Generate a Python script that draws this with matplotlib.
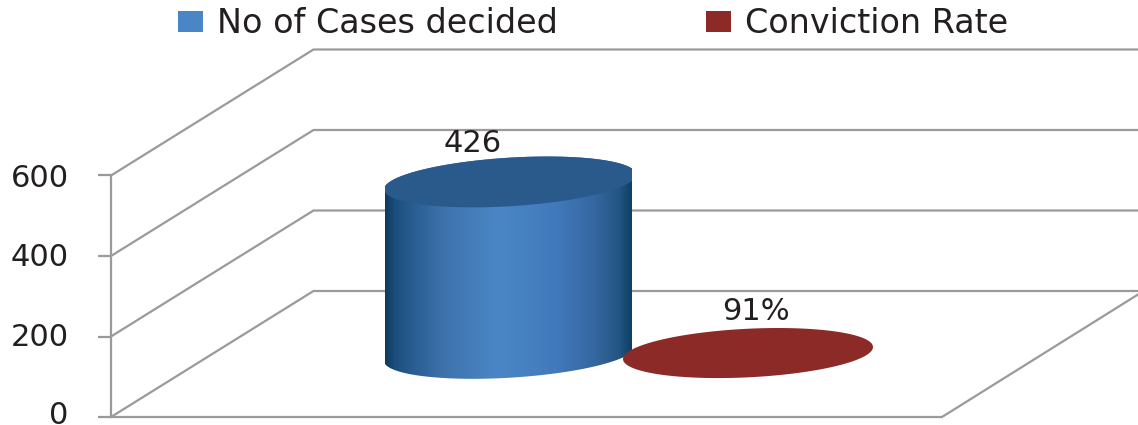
import numpy as np
import matplotlib
matplotlib.use("Agg")
import matplotlib.pyplot as plt
from matplotlib.colors import LinearSegmentedColormap
from matplotlib.patches import Patch, Polygon, Rectangle
from matplotlib.transforms import ScaledTranslation

# data
categories = ["No of Cases decided", "Conviction Rate"]
values = [426, 0.91]
value_labels = ["426", "91%"]
y_ticks = [0, 200, 400, 600]

# layout (pixels)
W, H = 1138, 425
PX_CAT = 239.5   # pixels per category step
PX_VAL = 0.4025  # pixels per value unit
LEFT, FLOOR = 111, 417
CAT0 = 508.5
DEPTH_X, DEPTH_Y = 202.5, 126
GRID = "#9a9a9a"
TEXT = "#231f20"
LW = 1.6

fig = plt.figure(figsize=(W / 100, H / 100), dpi=100)
ax = fig.add_axes([LEFT / W, (H - FLOOR) / H, (W - LEFT) / W, FLOOR / H])
ax.set_xlim((LEFT - CAT0) / PX_CAT, (W - CAT0) / PX_CAT)
ax.set_ylim(0, FLOOR / PX_VAL)
ax.patch.set_visible(False)

x_left = ax.get_xlim()[0]
x_right = ax.get_xlim()[1]
dx = DEPTH_X / PX_CAT
dy = DEPTH_Y / PX_VAL

# back wall + side wall gridlines
for v in y_ticks:
    ax.plot([x_left, x_left + dx, x_right], [v, v + dy, v + dy], color=GRID, lw=LW, zorder=1)
# floor right edge
x_floor = (942 - CAT0) / PX_CAT
ax.plot([x_floor, x_right], [0, (W - 942) * 0.625 / PX_VAL], color=GRID, lw=LW, zorder=1)

for s in ["top", "right"]:
    ax.spines[s].set_visible(False)
for s in ["left", "bottom"]:
    ax.spines[s].set_color(GRID)
    ax.spines[s].set_linewidth(LW)
ax.spines["left"].set_bounds(0, 600)
ax.spines["bottom"].set_bounds(x_left, x_floor)
ax.set_xticks([])
ax.set_yticks(y_ticks)
ax.tick_params(axis="y", length=9.5, width=LW, color=GRID, pad=21, labelsize=22, labelcolor=TEXT)
# the low labels sit a bit above their ticks
for lab, up_px in zip(ax.get_yticklabels(), [5, 2, 1, 0]):
    lab.set_transform(lab.get_transform() + ScaledTranslation(0, up_px / 100, fig.dpi_scale_trans))


def disc(c, v, half_w=125, half_h=24.3, shear=6):
    t = np.linspace(0, 2 * np.pi, 241)
    x = c + half_w / PX_CAT * np.cos(t)
    y = v + (half_h * np.sin(t) + shear * np.cos(t)) / PX_VAL
    return x, y


BASE = 158  # cylinder base sits this far up the floor
x0 = 1.5 / PX_CAT

# cylinder body with horizontal gradient
cmap = LinearSegmentedColormap.from_list("cyl", [
    (0.0, "#0f3a60"), (0.04, "#1c4f7c"), (0.12, "#2a5f94"), (0.25, "#3f74ae"),
    (0.45, "#4a86c5"), (0.68, "#427bbd"), (0.85, "#3567a0"), (0.95, "#235582"),
    (1.0, "#0f3f66"),
])
bx, by = disc(x0, BASE, half_w=126, shear=7.5)
tx, ty = disc(x0, BASE + values[0], half_w=126, shear=7.5)
low = (np.arange(len(bx)) >= 120)
up = (np.arange(len(tx)) <= 120)
outline = np.vstack([
    np.column_stack([bx[low], by[low]]),
    np.column_stack([tx[up], ty[up]]),
])
body = Polygon(outline, closed=True, transform=ax.transData, fc="none", ec="none")
ax.add_patch(body)
x_a, x_b = (385 - CAT0) / PX_CAT, (632 - CAT0) / PX_CAT
grad = np.linspace(0, 1, 256).reshape(1, -1)
im = ax.imshow(grad, cmap=cmap, extent=[x_a, x_b, BASE - 80, BASE + values[0] + 80],
               aspect="auto", zorder=3)
im.set_clip_path(body)
ax.set_xlim((LEFT - CAT0) / PX_CAT, (W - CAT0) / PX_CAT)
ax.set_ylim(0, FLOOR / PX_VAL)

# cylinder top, cut by the body's straight sides
cut = Rectangle((x_a, 0), x_b - x_a, 1000, transform=ax.transData, fc="none", ec="none")
ax.add_patch(cut)
top = ax.fill(tx, ty, color="#2a5a8c", lw=0, zorder=4)[0]
top.set_clip_path(cut)

# second series is only a flat disc
rx, ry = disc(1, BASE + values[1])
ax.fill(rx, ry, color="#8c2a28", lw=0, zorder=5)

# data labels
ax.annotate(value_labels[0], (0, BASE + values[0]), xytext=(-36, 38), textcoords="offset pixels",
            ha="center", va="center", fontsize=22, color=TEXT, zorder=6)
ax.annotate(value_labels[1], (1, BASE + values[1]), xytext=(8, 41.5), textcoords="offset pixels",
            ha="center", va="center", fontsize=22, color=TEXT, zorder=6)

handles = [Patch(fc="#4a86c5", ec="none"), Patch(fc="#8c2a28", ec="none")]
ax.legend(handles, categories, ncols=2, loc="upper left", frameon=False,
          bbox_to_anchor=(178 / W, 1 - 7 / H), bbox_transform=fig.transFigure,
          borderaxespad=0, borderpad=0, fontsize=24, labelcolor=TEXT,
          handlelength=0.75, handleheight=0.6, handletextpad=0.42, columnspacing=4.45)

fig.savefig("out.png", dpi=100)
